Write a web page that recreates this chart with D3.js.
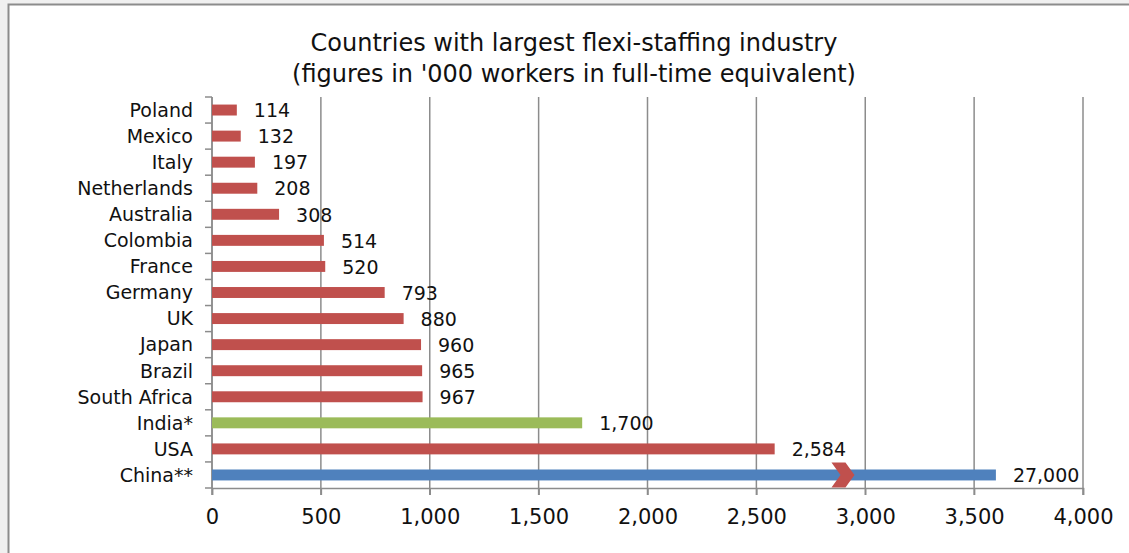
<!DOCTYPE html>
<html>
<head>
<meta charset="utf-8">
<script src="https://cdn.jsdelivr.net/npm/d3@7"></script>
<style>
  html, body { margin: 0; padding: 0; background: #f0f0f0; }
  svg { display: block; font-family: "DejaVu Sans", sans-serif; }
</style>
</head>
<body>
<div id="chart"></div>
<script>
// data, top to bottom as drawn
const countries = ["Poland", "Mexico", "Italy", "Netherlands", "Australia", "Colombia", "France",
  "Germany", "UK", "Japan", "Brazil", "South Africa", "India*", "USA", "China**"];
const workers = [114, 132, 197, 208, 308, 514, 520, 793, 880, 960, 965, 967, 1700, 2584, 27000];
const barGroup = ["other", "other", "other", "other", "other", "other", "other",
  "other", "other", "other", "other", "other", "india", "other", "china"];
const xTicks = [0, 500, 1000, 1500, 2000, 2500, 3000, 3500, 4000];
// China runs off the scale: bar is cut at axisCap with a break mark at breakAt
const axisCap = 3600;
const breakAt = 2900;

const W = 1129, H = 553;
const margin = { top: 97, right: 46, bottom: 65, left: 212 };
const width = 1083 - margin.left;
const height = 488 - margin.top;

const svg = d3.select("#chart").append("svg")
  .attr("width", W)
  .attr("height", H);

// chart frame
svg.append("rect")
  .attr("x", 8.5).attr("y", 4.5)
  .attr("width", W).attr("height", H)
  .attr("fill", "#ffffff")
  .attr("stroke", "#8c8c8c")
  .attr("stroke-width", 2);

svg.append("text")
  .attr("x", 574).attr("y", 51)
  .attr("text-anchor", "middle")
  .attr("font-size", 24)
  .attr("fill", "#111")
  .text("Countries with largest flexi-staffing industry");
svg.append("text")
  .attr("x", 574).attr("y", 82)
  .attr("text-anchor", "middle")
  .attr("font-size", 24)
  .attr("fill", "#111")
  .text("(figures in '000 workers in full-time equivalent)");

const g = svg.append("g")
  .attr("transform", `translate(${margin.left},${margin.top})`);

const x = d3.scaleLinear().domain([0, 4000]).range([0, width]);
const y = d3.scaleBand().domain(countries).range([0, height]).paddingInner(0.58).paddingOuter(0.29);
const rows = d3.scaleLinear().domain([0, countries.length]).range([0, height]);

const color = d3.scaleOrdinal()
  .domain(["other", "india", "china"])
  .range(["#c0504d", "#9bbb59", "#4f81bd"]);

const gridColor = "#8c8c8c";

// vertical gridlines
g.append("g")
  .selectAll("line")
  .data(xTicks)
  .join("line")
  .attr("x1", d => x(d)).attr("x2", d => x(d))
  .attr("y1", 0).attr("y2", height + 7)
  .attr("stroke", gridColor)
  .attr("stroke-width", 1.5);

// bottom axis
const xAxis = g.append("g")
  .attr("transform", `translate(0,${height})`)
  .call(d3.axisBottom(x).tickValues(xTicks).tickFormat(d3.format(",")).tickSize(7).tickPadding(14));
xAxis.select(".domain").attr("stroke", gridColor).attr("stroke-width", 1.5);
xAxis.selectAll(".tick line").attr("stroke", gridColor).attr("stroke-width", 1.5);
xAxis.selectAll("text").attr("font-size", 21).attr("fill", "#111")
  .attr("font-family", "'DejaVu Sans', sans-serif");

// left axis: line, ticks at row edges, labels
g.append("line")
  .attr("x1", 0).attr("x2", 0).attr("y1", 0).attr("y2", height)
  .attr("stroke", gridColor).attr("stroke-width", 1.5);
g.append("g")
  .selectAll("line")
  .data(d3.range(countries.length + 1))
  .join("line")
  .attr("x1", -7).attr("x2", 0)
  .attr("y1", d => rows(d)).attr("y2", d => rows(d))
  .attr("stroke", gridColor).attr("stroke-width", 1.5);
g.append("g")
  .selectAll("text")
  .data(countries)
  .join("text")
  .attr("x", -19)
  .attr("y", d => y(d) + y.bandwidth() / 2)
  .attr("dy", "0.36em")
  .attr("text-anchor", "end")
  .attr("font-size", 19)
  .attr("fill", "#111")
  .text(d => d);

const drawn = v => Math.min(v, axisCap);

// bars
g.append("g")
  .selectAll("rect")
  .data(countries)
  .join("rect")
  .attr("x", x(0))
  .attr("y", d => y(d))
  .attr("width", (d, i) => x(drawn(workers[i])) - x(0))
  .attr("height", y.bandwidth())
  .attr("fill", (d, i) => color(barGroup[i]));

// value labels
g.append("g")
  .selectAll("text")
  .data(countries)
  .join("text")
  .attr("x", (d, i) => x(drawn(workers[i])) + 17)
  .attr("y", d => y(d) + y.bandwidth() / 2)
  .attr("dy", "0.38em")
  .attr("font-size", 19)
  .attr("fill", "#111")
  .text((d, i) => d3.format(",")(workers[i]));

// axis break chevron on the capped bar
countries.forEach((c, i) => {
  if (workers[i] <= axisCap) return;
  const cx = x(breakAt);
  const cy = y(c) + y.bandwidth() / 2;
  g.append("path")
    .attr("d", `M${cx - 12},${cy - 12.5} L${cx + 2},${cy - 12.5} L${cx + 11},${cy} L${cx + 2},${cy + 12.5} L${cx - 12},${cy + 12.5} L${cx - 3},${cy} Z`)
    .attr("fill", "#c0504d");
});
</script>
</body>
</html>
